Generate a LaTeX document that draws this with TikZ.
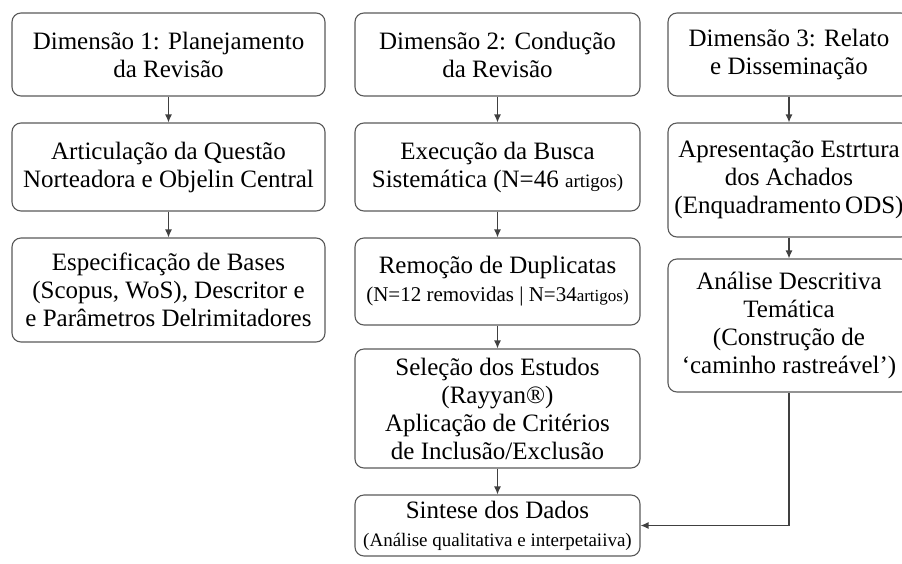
\documentclass[tikz,border=0pt]{standalone}
\usepackage{fontspec}
\setmainfont{Liberation Serif}
\usetikzlibrary{arrows.meta}

\begin{document}
\begin{tikzpicture}[x=1pt, y=-1pt,
	caixa/.style={draw=black!65, line width=1.1pt, rounded corners=9pt, align=center,
		inner sep=0pt, font=\fontsize{25}{28}\selectfont},
	seta/.style={draw=black!75, line width=1.2pt, -{Latex[length=8pt,width=7pt]}}]
	\clip (0,0) rectangle (902,563);

	\node [caixa, minimum width=313pt, minimum height=83pt] (d1) at (168.5, 54.5)
	{Dimensão 1: Planejamento\\da Revisão};
	\node [caixa, minimum width=313pt, minimum height=88pt] (a1) at (168.5, 167)
	{Articulação da Questão\\Norteadora e Objelin Central};
	\node [caixa, minimum width=313pt, minimum height=104pt] (a2) at (168.5, 290)
	{Especificação de Bases\\(Scopus, WoS), Descritor e\\e Parâmetros Delrimitadores};

	\node [caixa, minimum width=285pt, minimum height=83pt] (d2) at (497.5, 54.5)
	{Dimensão 2: Condução\\da Revisão};
	\node [caixa, minimum width=285pt, minimum height=88pt] (b1) at (497.5, 167)
	{Execução da Busca\\Sistemática (N=46 {\fontsize{19}{20}\selectfont artigos)}};
	\node [caixa, minimum width=285pt, minimum height=87pt] (b2) at (497.5, 281.5)
	{Remoção de Duplicatas\\{\fontsize{21}{26}\selectfont (N=12 removidas | N=34{\fontsize{17}{20}\selectfont artigos)}}};
	\node [caixa, minimum width=285pt, minimum height=119pt] (b3) at (497.5, 408.5)
	{Seleção dos Estudos\\(Rayyan®)\\Aplicação de Critérios\\de Inclusão/Exclusão};
	\node [caixa, minimum width=285pt, minimum height=61pt] (b4) at (497.5, 525.5)
	{Sintese dos Dados\\{\fontsize{19}{24}\selectfont (Análise qualitativa e interpetaiiva)}};

	\node [caixa, minimum width=242pt, minimum height=83pt] (d3) at (789, 54.5)
	{Dimensão 3: Relato\\e Disseminação};
	\node [caixa, minimum width=242pt, minimum height=114pt] (c1) at (789, 180)
	{Apresentação Estrtura\\dos Achados\\(Enquadramento\,ODS)};
	\node [caixa, minimum width=242pt, minimum height=133pt] (c2) at (789, 325.5)
	{Análise Descritiva\\Temática\\(Construção de\\‘caminho rastreável’)};

	\draw [seta] (d1) -- (a1);
	\draw [seta] (a1) -- (a2);
	\draw [seta] (d2) -- (b1);
	\draw [seta] (b1) -- (b2);
	\draw [seta] (b2) -- (b3);
	\draw [seta] (b3) -- (b4);
	\draw [seta] (d3) -- (c1);
	\draw [seta] (c1) -- (c2);
	\draw [seta] (c2.south) |- (b4.east);
\end{tikzpicture}
\end{document}
